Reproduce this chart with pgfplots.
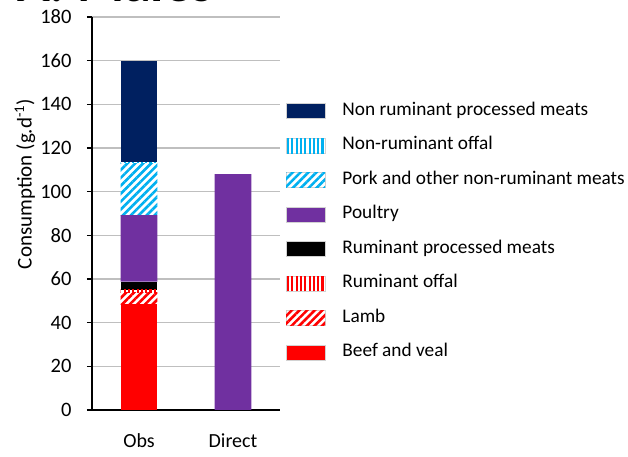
\documentclass[border=0pt]{standalone}
\usepackage{fontspec}
\setmainfont{Carlito}
\usepackage{pgfplots}
\pgfplotsset{compat=1.18}
\usetikzlibrary{patterns.meta}
\definecolor{navy}{HTML}{002060}
\definecolor{lblue}{HTML}{00B0F0}
\definecolor{purp}{HTML}{7030A0}
\definecolor{gridg}{HTML}{BFBFBF}
\begin{document}
\begin{tikzpicture}
\path[use as bounding box] (-92bp,-47bp) rectangle (536bp,410bp);
\begin{axis}[
  scale only axis,
  width=188bp, height=393bp,
  ybar stacked,
  bar width=0.39,
  xmin=-0.5, xmax=1.5,
  ymin=0, ymax=180,
  ytick={0,20,...,180},
  xtick={0,1},
  xticklabels={Obs,Direct},
  axis x line*=bottom,
  axis y line*=left,
  axis line style={black, line width=1.2bp, -},
  x axis line style={line width=1.5bp},
  ymajorgrids,
  major grid style={gridg, line width=1.2bp},
  major x tick style={draw=none},
  major y tick style={black, line width=1.2bp},
  tick align=outside,
  major tick length=5bp,
  tick label style={font=\fontsize{20bp}{24bp}\selectfont},
  label style={font=\fontsize{21bp}{24bp}\selectfont},
  /pgf/number format/assume math mode=true,
  yticklabel style={font=\fontsize{20.5bp}{24bp}\selectfont, xshift=-12bp},
  xticklabel style={yshift=-15bp},
  ylabel={Consumption (g.d\textsuperscript{-1})},
  ylabel style={at={(axis description cs:-0.356,0.575)}, anchor=center},
  reverse legend,
  legend cell align=left,
  legend style={at={(axis description cs:1.03,0.453)}, anchor=west, draw=none, fill=none,
    inner sep=0pt, row sep=18.5bp,
    nodes={inner sep=0pt, text height=12bp, text depth=4bp},
    font=\fontsize{19.3bp}{22bp}\selectfont},
  /tikz/every odd column/.append style={column sep=17bp},
  legend image code/.code={\path[#1, draw=gray!35, line width=0.6bp] (0bp,-7.5bp) rectangle (39bp,7.5bp);},
]
\addplot[fill=red, draw=none] coordinates {(0,48.4) (1,0)};
\addlegendentry{Beef and veal}
\addplot[fill=white, draw=none, postaction={pattern={Lines[angle=45,distance=5.4bp,line width=2.6bp]}, pattern color=red}] coordinates {(0,5.2) (1,0)};
\addlegendentry{Lamb}
\addplot[fill=white, draw=none, postaction={pattern={Lines[angle=90,distance=4.3bp,line width=2.1bp]}, pattern color=red}] coordinates {(0,1.4) (1,0)};
\addlegendentry{Ruminant offal}
\addplot[fill=black, draw=none] coordinates {(0,3.8) (1,0)};
\addlegendentry{Ruminant processed meats}
\addplot[fill=purp, draw=none] coordinates {(0,30.5) (1,108)};
\addlegendentry{Poultry}
\addplot[fill=white, draw=none, postaction={pattern={Lines[angle=45,distance=5.6bp,line width=2.6bp]}, pattern color=lblue}] coordinates {(0,23.6) (1,0)};
\addlegendentry{Pork and other non-ruminant meats}
\addplot[fill=white, draw=none, postaction={pattern={Lines[angle=90,distance=4.3bp,line width=2.1bp]}, pattern color=lblue}] coordinates {(0,0.5) (1,0)};
\addlegendentry{Non-ruminant offal}
\addplot[fill=navy, draw=none] coordinates {(0,46.6) (1,0)};
\addlegendentry{Non ruminant processed meats}
\end{axis}
\node[anchor=base west, font=\fontsize{54bp}{60bp}\selectfont\bfseries, inner sep=0pt] at (-75bp,408bp) {A: Males};
\end{tikzpicture}
\end{document}
